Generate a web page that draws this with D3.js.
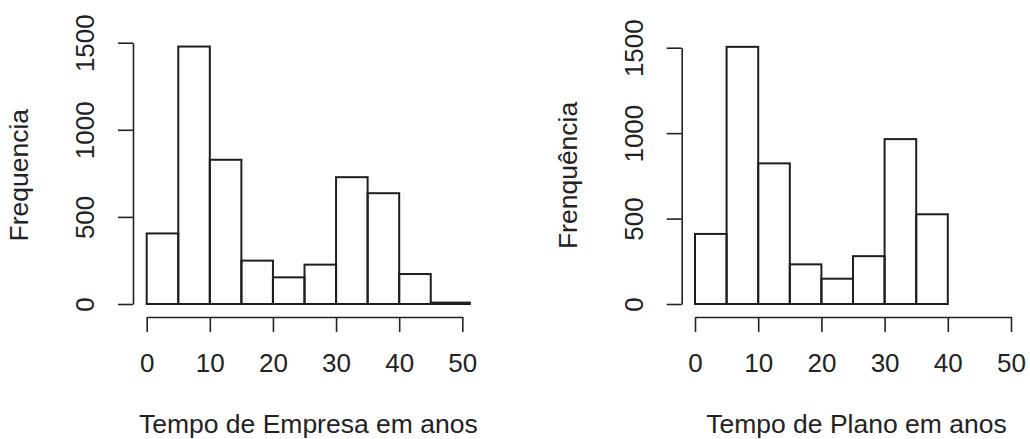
<!DOCTYPE html>
<html>
<head>
<meta charset="utf-8">
<script src="https://cdn.jsdelivr.net/npm/d3@7"></script>
<style>
  body { margin: 0; background: #fff; }
  svg text { font-family: "Liberation Sans", Arial, sans-serif; font-size: 26px; fill: #222; }
  svg text.title { font-size: 26.5px; }
</style>
</head>
<body>
<div id="chart"></div>
<script>
// histogram bins (breaks) and counts
const breaksEmpresa = [0, 5, 10, 15, 20, 25, 30, 35, 40, 45, 51.2];
const countsEmpresa = [405, 1478, 828, 249, 153, 226, 728, 636, 172, 8];

const breaksPlano = [0, 5, 10, 15, 20, 25, 30, 35, 40, 45, 51.1];
const countsPlano = [410, 1505, 823, 232, 148, 280, 965, 525, 0, 0];

const xTicks = [0, 10, 20, 30, 40, 50];
const yTicks = [0, 500, 1000, 1500];

const width = 1030;
const height = 439;

const svg = d3.select('#chart')
.append('svg')
.attr('width', width)
.attr('height', height);

const drawPanel = (opts) => {

	const x = d3.scaleLinear()
	.domain([0, 50])
	.range(opts.xRange);

	const y = d3.scaleLinear()
	.domain([0, 1500])
	.range(opts.yRange);

	const bins = opts.counts.map((c, i) => ({ x0: opts.breaks[i], x1: opts.breaks[i + 1], count: c }));

	const g = svg.append('g');

	g.append('g')
	.selectAll('rect')
	.data(bins)
	.enter()
	.append('rect')
	.attr('x', d => x(d.x0))
	.attr('width', d => x(d.x1) - x(d.x0))
	.attr('y', d => y(d.count))
	.attr('height', d => y(0) - y(d.count))
	.attr('fill', 'none')
	.attr('stroke', '#1e1e1e')
	.attr('stroke-width', 2);

	// x axis
	const xAxis = g.append('g')
	.attr('transform', `translate(0,${opts.xAxisY})`)
	.call(d3.axisBottom(x).tickValues(xTicks).tickSize(15).tickSizeOuter(0).tickFormat(d3.format('d')));

	xAxis.selectAll('path, line')
	.attr('stroke', '#222')
	.attr('stroke-width', 1.6);

	xAxis.selectAll('text')
	.attr('dy', null)
	.attr('y', 54.7)
	.attr('fill', '#222');

	// y axis
	const yAxis = g.append('g')
	.attr('transform', `translate(${opts.yAxisX},0)`)
	.call(d3.axisLeft(y).tickValues(yTicks).tickSize(15).tickSizeOuter(0).tickFormat(d3.format('d')));

	yAxis.selectAll('path, line')
	.attr('stroke', '#222')
	.attr('stroke-width', 1.6);

	yAxis.selectAll('text')
	.attr('x', null)
	.attr('dy', null)
	.attr('text-anchor', 'middle')
	.attr('transform', 'translate(-39,0) rotate(-90)')
	.attr('fill', '#222');

	yAxis.attr('font-family', null).attr('font-size', null);
	xAxis.attr('font-family', null).attr('font-size', null);

	// titles
	const last = opts.breaks[opts.breaks.length - 1];

	g.append('text')
	.attr('class', 'title')
	.attr('x', x(last / 2))
	.attr('y', 433)
	.attr('text-anchor', 'middle')
	.text(opts.xTitle);

	g.append('text')
	.attr('class', 'title')
	.attr('text-anchor', 'middle')
	.attr('transform', `translate(${opts.yTitleX},${y(d3.max(opts.counts) / 2)}) rotate(-90)`)
	.text(opts.yTitle);
}

drawPanel({
	breaks: breaksEmpresa,
	counts: countsEmpresa,
	xRange: [146.7, 462.3],
	yRange: [304, 42.7],
	xAxisY: 317,
	yAxisX: 133,
	yTitleX: 28,
	xTitle: 'Tempo de Empresa em anos',
	yTitle: 'Frequencia'
})

drawPanel({
	breaks: breaksPlano,
	counts: countsPlano,
	xRange: [695, 1011],
	yRange: [304, 47.7],
	xAxisY: 317,
	yAxisX: 681.7,
	yTitleX: 576.5,
	xTitle: 'Tempo de Plano em anos',
	yTitle: 'Frenquência'
})
</script>
</body>
</html>
